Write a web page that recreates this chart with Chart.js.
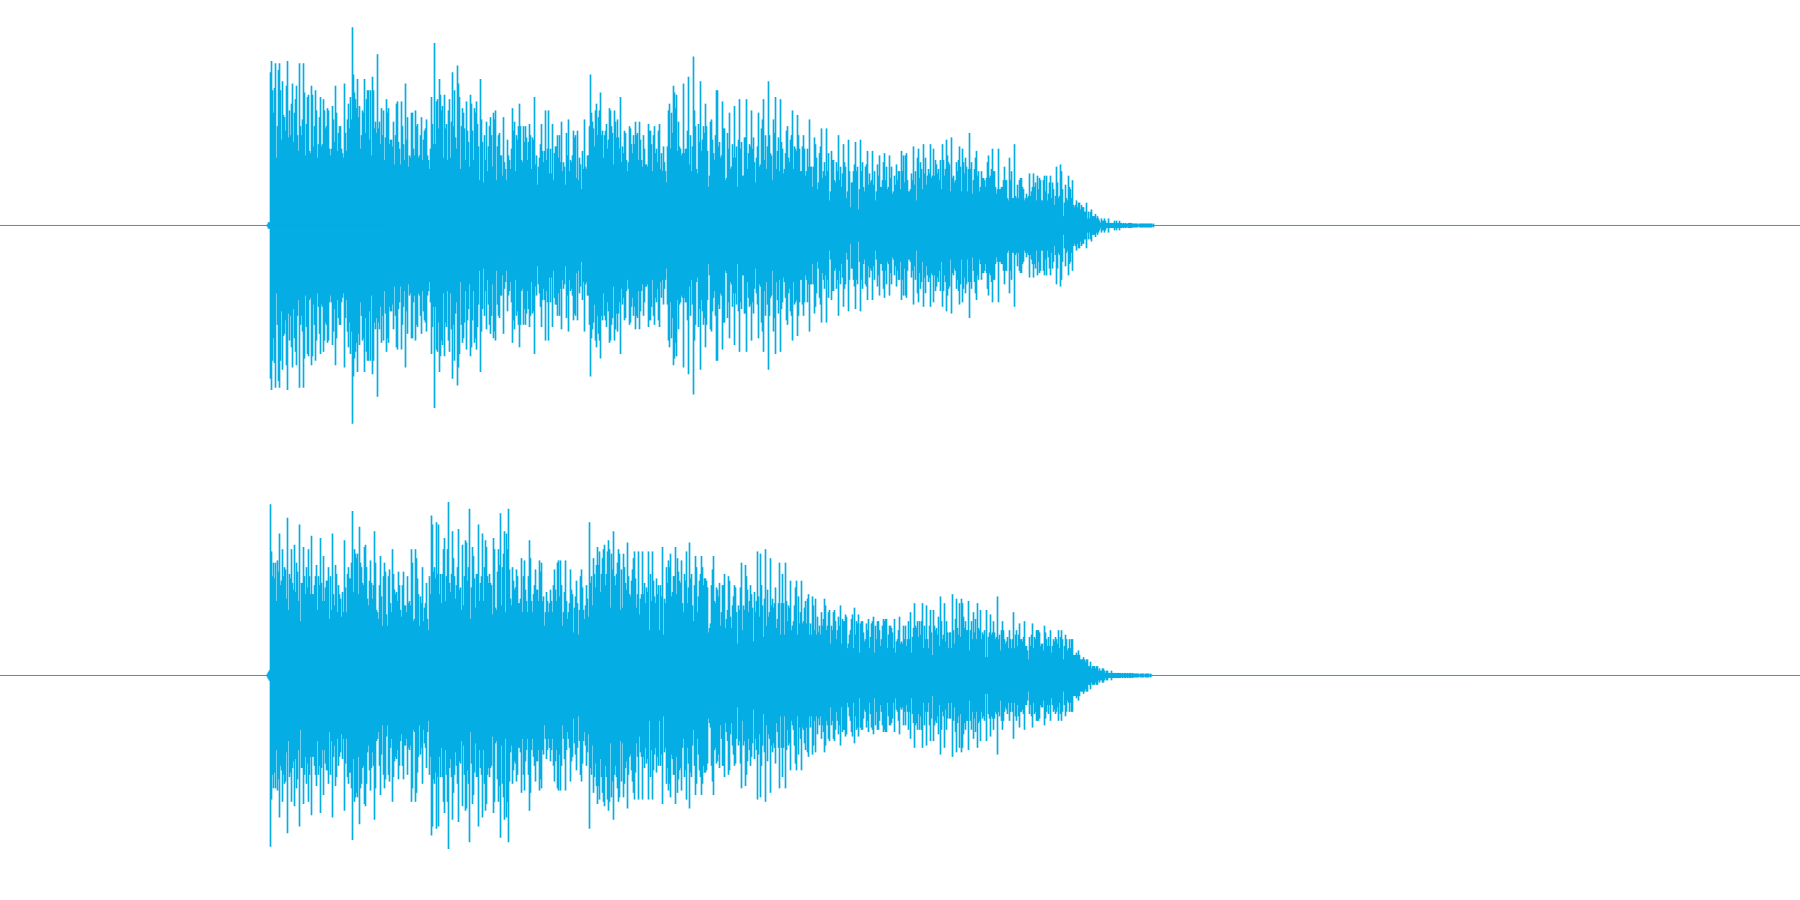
<!DOCTYPE html>
<html>
<head>
<meta charset="utf-8">
<title>Waveform</title>
<script src="https://cdn.jsdelivr.net/npm/chart.js@4"></script>
<style>
  html, body { margin: 0; padding: 0; background: #fff; }
  canvas { display: block; }
</style>
</head>
<body>
<canvas id="channel1" width="1800" height="450"></canvas>
<canvas id="channel2" width="1800" height="450"></canvas>
<script>
// peak level per pixel column, in percent of full scale (the envelope is mirrored round zero)
const firstColumn = 267;
const timeRange = [0, 1800];

const channel1Peaks = [
  0.4, 1.3, 1.3,
  68,73,60,50,61,72,30,44,69,72,60,38,64,49,48,42,62,73,39,51,
  40,54,63,37,50,56,62,40,33,72,44,40,47,72,59,31,45,57,58,33,
  32,62,58,35,44,60,51,30,36,48,57,35,36,56,51,43,44,52,51,34,
  31,34,53,47,37,62,50,33,41,44,44,34,32,30,63,41,33,47,54,43,
  57,47,88,67,59,56,52,65,48,53,34,40,51,50,65,41,56,60,60,38,
  60,31,66,60,43,46,41,76,43,46,36,52,40,51,29,39,56,50,52,36,
  38,38,35,46,27,40,54,55,37,34,27,55,44,36,29,63,38,48,26,31,
  30,50,50,34,31,51,44,45,30,31,40,48,29,38,42,43,47,31,29,25,
  34,57,45,36,81,36,55,56,43,65,58,51,53,30,58,43,45,29,51,56,
  30,46,68,44,60,39,34,71,63,57,25,44,52,50,43,29,55,42,37,26,
  58,54,42,29,52,50,55,45,35,20,65,47,37,19,40,29,46,24,35,44,
  48,40,26,50,47,51,20,35,40,41,31,31,22,48,28,25,20,38,31,29,
  25,34,52,42,46,24,40,38,44,54,44,29,28,44,37,44,39,29,37,45,
  40,25,39,38,57,27,31,18,26,30,36,45,33,28,33,51,29,34,51,23,
  34,23,45,20,32,35,35,40,30,40,28,46,24,28,26,18,41,31,47,24,
  29,28,31,42,39,40,21,42,20,30,27,16,33,25,47,26,25,31,31,44,
  67,50,46,43,35,51,54,40,48,51,59,40,42,30,40,42,45,34,38,52,
  51,44,41,27,51,46,39,47,39,34,57,28,35,32,42,41,29,24,28,44,
  43,36,32,40,36,46,40,41,29,46,38,29,26,40,34,27,27,26,45,42,
  42,36,24,40,44,32,34,28,42,45,25,32,24,35,28,24,19,35,51,54,
  34,50,41,62,59,52,58,33,46,35,34,31,32,63,32,34,34,42,66,27,
  40,24,35,75,51,44,25,23,45,37,64,33,38,44,41,54,44,33,17,22,
  46,47,38,32,29,40,60,60,35,37,30,31,55,43,43,20,21,41,34,50,
  25,26,36,30,53,30,35,17,38,56,34,37,22,22,39,39,56,25,32,36,
  35,51,34,39,28,19,30,35,50,26,27,43,47,56,29,40,25,35,64,40,
  32,31,20,47,41,57,25,33,39,24,56,37,34,23,25,32,42,44,30,28,
  38,40,51,25,35,34,33,49,40,34,24,24,35,40,34,22,24,34,26,47,
  26,26,17,26,39,36,30,16,19,32,35,43,21,24,28,22,43,24,32,11,
  15,33,29,29,20,19,28,24,40,20,26,17,23,36,28,26,12,15,38,24,
  8,19,19,24,27,37,24,26,7,16,38,24,28,17,15,26,27,33,18,23,
  19,20,33,18,24,11,15,27,22,31,17,17,20,28,32,20,26,16,17,31,
  21,26,14,15,22,18,27,20,24,24,16,33,24,31,19,31,32,20,15,15,
  16,23,20,35,18,24,11,30,34,21,28,25,16,36,23,30,18,22,25,23,
  36,21,22,34,22,29,27,23,25,20,29,16,36,29,22,25,38,31,28,27,
  15,39,21,22,19,20,28,24,29,35,26,15,34,28,23,30,26,15,25,41,
  25,28,14,20,25,30,33,22,24,15,17,24,21,21,20,17,21,28,31,21,
  22,25,34,24,24,17,14,16,34,16,16,17,17,20,26,20,20,12,11,30,
  20,24,12,12,36,13,12,18,12,20,21,21,17,16,11,12,14,12,13,23,
  13,15,17,23,17,19,11,22,16,21,20,11,11,20,22,15,22,11,14,19,
  22,12,19,16,9,13,26,19,12,13,27,24,16,4,10,18,12,11,22,17,
  16,12,20,9,8,9,11,8,10,10,7,9,8,8,6,6,10,3,6,3,
  6,7,4,4,4,5,3,4,3,2,1,3,2,2,3,2,1,1,3,1,
  1,1,1,1,2,1,2,1,1,2,1,1,0.7,1,0.7,1,0.7,0.7,1,1,
  1,1,0.7,0.7,0.7,0.7,0.7,0.7,0.3,0.7,0.7,0.7,0.7,0.7,0.7,0.7,0.7,0.7,0.7,0.7,
  0.7,0.7,0.3,0.7
];

const channel2Peaks = [
  0.7, 1.5, 2.2,
  76,55,44,50,43,50,33,51,46,63,40,42,56,44,48,47,34,70,29,45,
  43,56,41,38,58,37,50,46,33,67,24,41,41,57,44,36,48,39,56,44,
  36,62,36,36,40,44,49,29,44,40,61,41,33,53,33,39,42,42,48,25,
  44,29,63,36,31,49,45,28,40,36,34,26,37,28,60,39,28,45,48,43,
  43,50,73,37,56,54,52,54,36,66,50,48,41,40,57,58,48,34,31,42,
  51,41,34,40,64,50,29,28,25,40,53,35,22,44,50,46,27,22,44,47,
  32,28,56,45,38,36,37,33,46,40,29,26,40,46,31,31,28,44,32,33,
  31,56,50,24,25,56,52,43,36,22,35,32,48,24,30,32,41,25,20,44,
  36,71,67,46,48,43,68,45,67,36,45,32,45,56,61,33,44,56,77,41,
  37,45,64,52,44,34,40,48,65,38,39,29,58,31,44,60,59,42,48,74,
  25,39,57,53,43,30,45,45,67,33,41,44,63,33,48,60,57,44,41,45,
  41,40,27,61,56,30,29,46,56,49,72,31,48,54,64,28,63,56,74,47,
  34,31,48,42,38,39,47,44,32,32,34,52,28,44,51,38,33,28,44,60,
  52,33,28,36,40,47,38,38,33,51,46,50,33,35,22,28,37,33,28,32,
  38,33,28,40,47,38,33,50,51,35,51,40,22,28,37,51,33,25,28,32,
  47,38,36,19,30,35,42,32,18,29,44,47,39,29,25,31,40,34,26,68,
  41,44,31,52,45,39,49,57,49,55,37,45,52,56,58,40,45,55,60,56,
  30,54,47,64,44,40,45,50,56,54,29,47,30,54,48,41,38,59,44,36,
  35,42,47,52,55,43,30,36,55,27,34,36,55,36,41,32,39,37,55,20,
  45,33,55,42,35,32,43,36,40,20,40,35,57,18,34,32,48,41,51,48,
  54,35,37,44,44,57,36,52,46,42,41,51,32,28,45,42,55,32,39,59,
  43,45,31,24,40,53,48,28,35,42,45,53,48,40,43,43,42,39,19,21,
  23,40,47,53,33,32,39,38,35,41,22,28,40,40,45,21,25,29,44,42,
  26,21,31,35,40,39,28,14,31,29,39,50,20,31,29,49,44,38,28,33,
  40,36,30,15,37,28,33,55,35,26,54,40,31,17,34,56,22,38,26,28,
  52,31,34,30,32,39,21,25,32,50,18,32,45,32,18,50,33,24,31,30,
  42,20,22,24,31,39,42,18,35,23,28,42,23,24,30,33,23,34,36,18,
  23,18,35,31,20,34,18,26,19,22,18,28,22,25,34,31,20,22,28,29,
  14,22,20,28,29,24,16,20,26,22,31,14,25,24,24,27,26,12,14,18,
  20,25,27,12,30,18,24,23,27,10,23,24,24,19,15,16,23,20,25,12,
  17,23,24,26,10,22,16,24,24,20,13,16,22,25,24,25,25,12,18,22,
  22,21,19,12,25,10,15,16,20,26,14,15,14,22,16,22,13,16,24,16,
  28,10,17,21,32,22,21,24,17,24,18,24,32,12,22,16,31,16,12,22,
  29,19,9,29,22,20,21,18,26,13,35,24,16,18,32,15,24,19,12,19,
  19,12,36,20,14,25,34,21,18,32,17,34,32,26,21,24,20,20,33,11,
  20,24,16,28,19,25,16,32,21,20,29,16,19,18,20,8,29,8,17,19,
  27,18,19,24,19,16,17,35,16,18,11,20,24,20,16,14,15,17,12,20,
  16,12,16,28,12,18,20,13,18,23,16,16,15,17,24,13,13,11,7,17,
  13,18,23,12,17,16,20,20,20,19,13,14,14,11,22,19,16,13,17,13,
  20,10,13,16,15,17,16,14,20,12,17,20,16,7,13,18,16,11,12,16,
  12,16,16,9,9,9,10,9,11,9,7,7,7,8,7,6,7,7,4,4,
  6,3,4,4,4,3,4,4,2,3,2,2,3,3,2,1,2,2,1,1,
  1,2,1,1,1,1,1,1,1,1,1,0.7,1,0.7,1,1,0.7,1,0.7,1,
  1,0.7,1,0.7,0.7,0.7,0.7,0.7,0.7,0.3,0.7,0.7,0.7,0.7,0.3,0.7,0.7,0.7,0.7,0.3,
  0.7,0.3
];

const waveColor = '#05ade4';

function renderChannel(canvasId, peaks) {
  const ctx = document.getElementById(canvasId).getContext('2d');
  const columns = peaks.map((peak, i) => ({ x: firstColumn + i + 0.5, y: [-peak, peak] }));
  return new Chart(ctx, {
    type: 'bar',
    data: {
      datasets: [
        {
          type: 'line',
          data: [{ x: timeRange[0], y: 0 }, { x: timeRange[1], y: 0 }],
          borderColor: waveColor,
          borderWidth: 1,
          pointRadius: 0
        },
        {
          data: columns,
          backgroundColor: waveColor,
          borderWidth: 0,
          barThickness: 1
        }
      ]
    },
    options: {
      responsive: false,
      animation: false,
      layout: { padding: 0 },
      plugins: { legend: { display: false }, tooltip: { enabled: false } },
      scales: {
        x: { type: 'linear', display: false, offset: false, min: timeRange[0], max: timeRange[1] },
        // zero sits on pixel row 225
        y: { display: false, min: -99.78, max: 100.22 }
      }
    }
  });
}

renderChannel('channel1', channel1Peaks);
renderChannel('channel2', channel2Peaks);
</script>
</body>
</html>
